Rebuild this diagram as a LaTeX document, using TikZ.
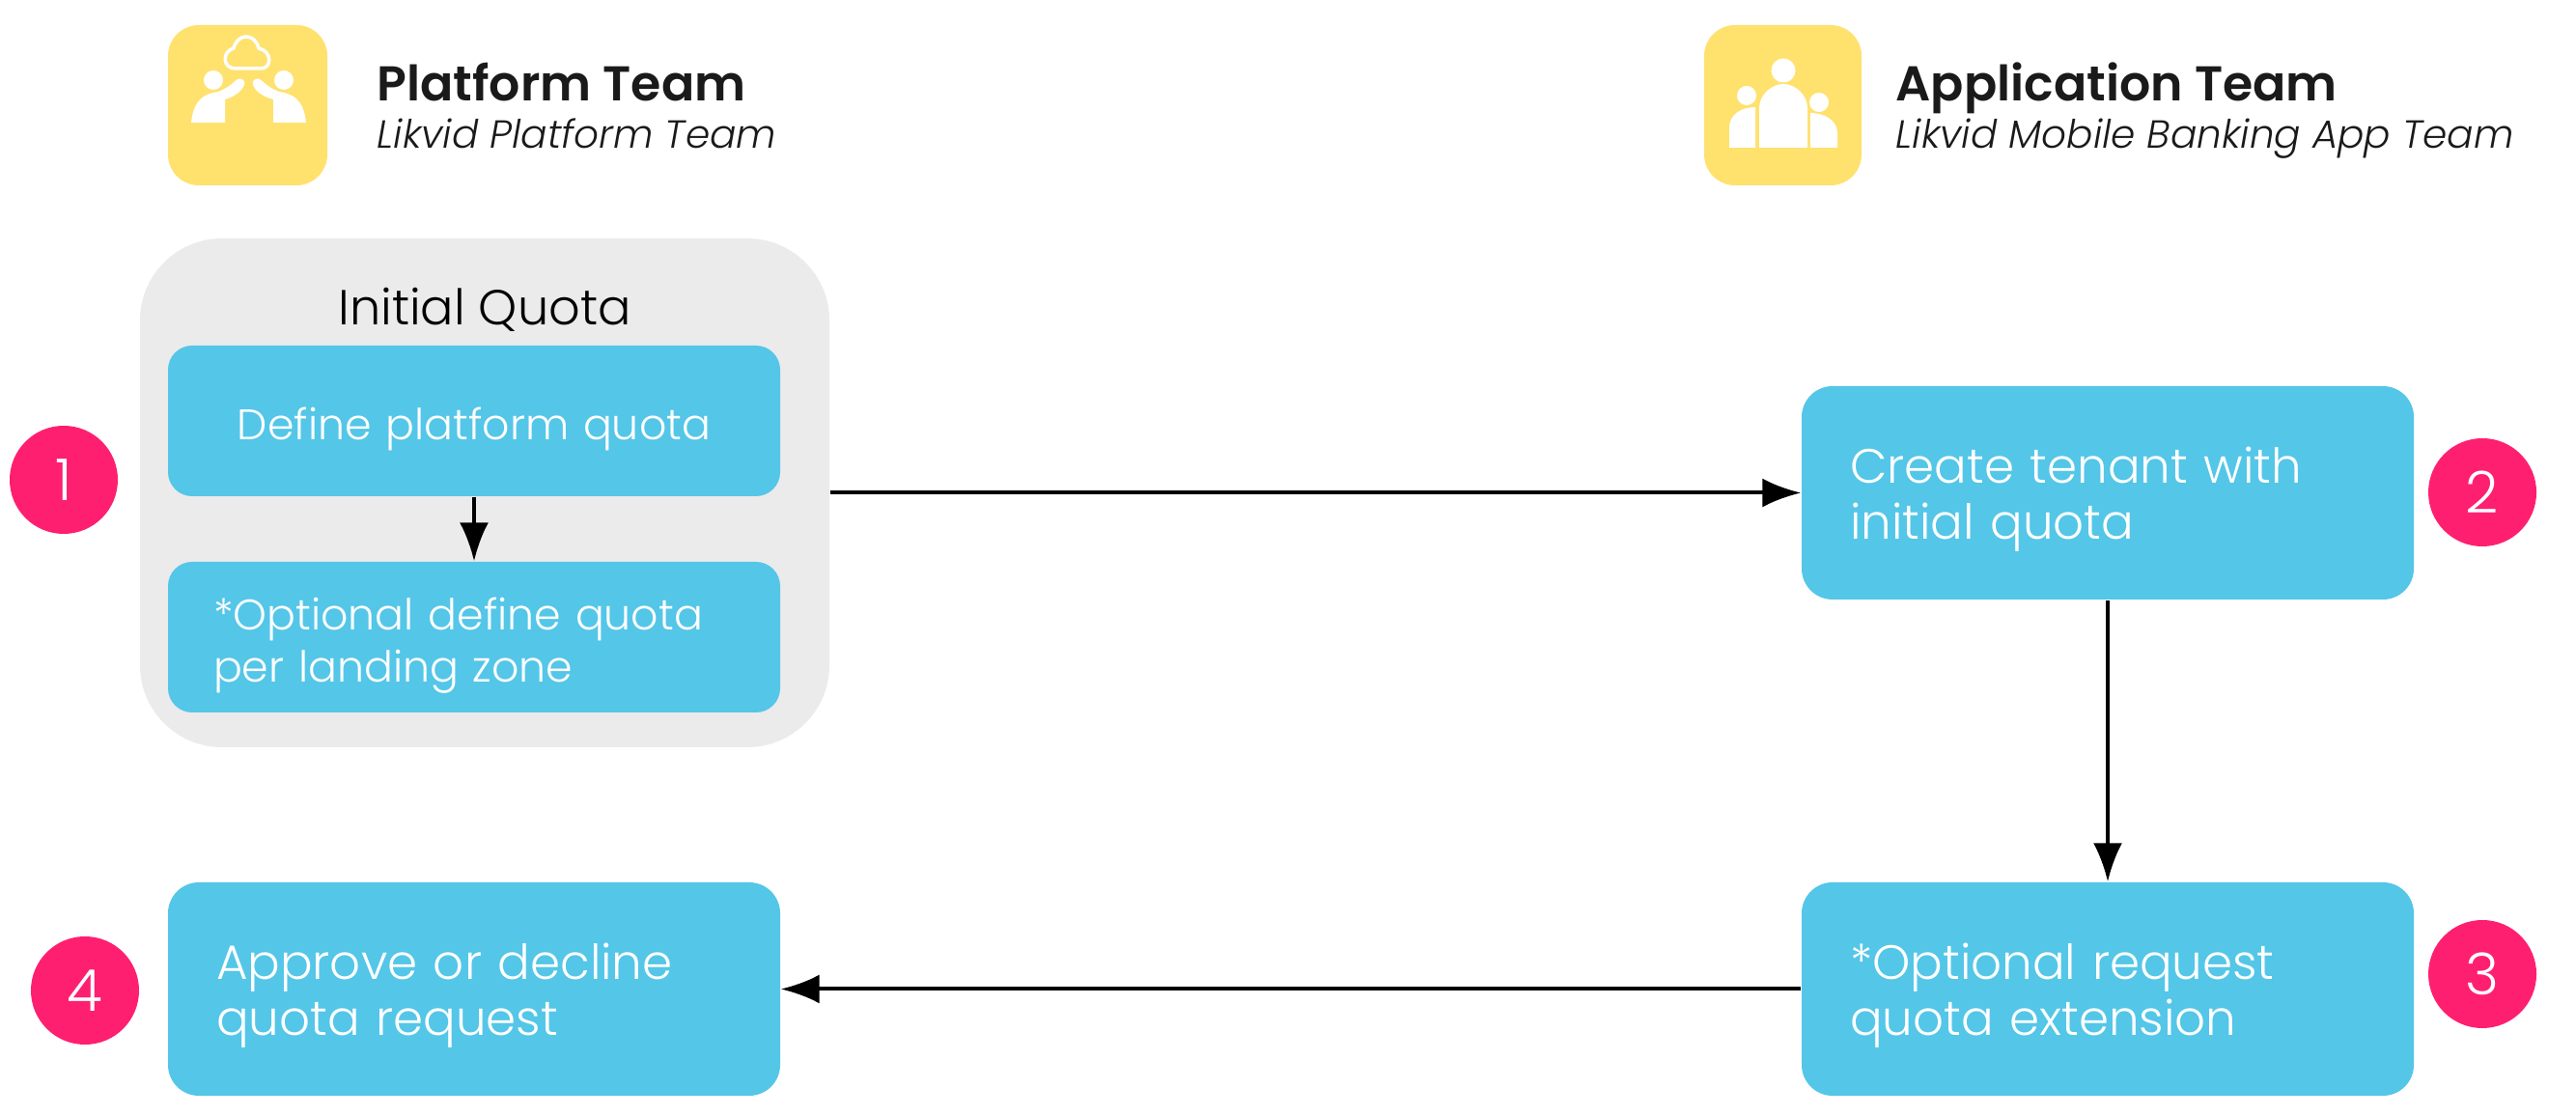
\documentclass[tikz,border=0pt]{standalone}
\usepackage{fontspec}
\setmainfont{Poppins}[UprightFont={* Light},ItalicFont={* Light Italic},BoldFont={* SemiBold}]
\usetikzlibrary{arrows.meta}
\definecolor{iconyellow}{HTML}{FFE16E}
\definecolor{boxblue}{HTML}{54C6E8}
\definecolor{groupgrey}{HTML}{EBEBEB}
\definecolor{numberpink}{HTML}{FF1F70}
\definecolor{titleblack}{HTML}{1A1A1A}
\tikzset{
  flowbox/.style={fill=boxblue,rounded corners=0.32cm,text=white,minimum width=6.34cm,minimum height=2.21cm,inner xsep=0.5cm,inner ysep=0pt,text width=5.34cm,align=left,font=\fontsize{14.2}{16.4}\selectfont,execute at begin node={\rule{0pt}{14.4pt}}},
  smallbox/.style={flowbox,rounded corners=0.25cm,minimum height=1.56cm,inner xsep=0.47cm,text width=5.4cm,font=\fontsize{12.6}{15.3}\selectfont,execute at begin node={\rule{0pt}{13.2pt}}},
  numberdot/.style={circle,fill=numberpink,text=white,minimum size=1.12cm,inner sep=0pt,font=\fontsize{17}{17}\selectfont},
  flowarrow/.style={-{Latex[length=0.4cm,width=0.3cm]},line width=0.04cm,black},
  teamname/.style={anchor=base west,inner sep=0pt,text=titleblack,font=\fontsize{14.4}{14.4}\bfseries\selectfont},
  teamnote/.style={anchor=base west,inner sep=0pt,text=titleblack,font=\fontsize{11.55}{11.55}\itshape\selectfont}
}
\begin{document}
\begin{tikzpicture}[x=1cm,y=-1cm]
      \useasboundingbox (0,0) rectangle (26.68,11.56);
      \fill[white] (0,0) rectangle (26.68,11.56);

      \fill[iconyellow,rounded corners=0.32cm] (1.74,0.26) rectangle (3.39,1.92);
      \fill[white] (2.21,0.83) circle (0.1);
      \fill[white] (2.94,0.83) circle (0.1);
      \fill[white] (1.98,1.27)..controls (2.0,1.1) and (2.05,0.98)..(2.26,0.95)
        ..controls (2.36,0.91) and (2.41,0.86)..(2.46,0.82)
        ..controls (2.5,0.8) and (2.55,0.84)..(2.53,0.88)
        ..controls (2.5,0.95) and (2.43,1.0)..(2.33,1.03)--(2.33,1.27)--cycle;
      \fill[white] (3.17,1.27)..controls (3.15,1.1) and (3.1,0.98)..(2.89,0.95)
        ..controls (2.79,0.91) and (2.74,0.86)..(2.69,0.82)
        ..controls (2.65,0.8) and (2.6,0.84)..(2.62,0.88)
        ..controls (2.65,0.95) and (2.72,1.0)..(2.83,1.03)--(2.83,1.27)--cycle;
      \draw[white,line width=0.035cm] (2.44,0.71)..controls (2.3,0.71) and (2.3,0.53)..(2.42,0.5)
        ..controls (2.46,0.34) and (2.64,0.34)..(2.68,0.5)
        ..controls (2.82,0.53) and (2.82,0.71)..(2.7,0.71)--cycle;

      \fill[iconyellow,rounded corners=0.32cm] (17.65,0.26) rectangle (19.28,1.92);
      \fill[white] (18.47,0.73) circle (0.125);
      \fill[white] (18.09,0.99) circle (0.1);
      \fill[white] (18.84,1.06) circle (0.1);
      \fill[white] (18.22,1.53)--(18.22,1.12)..controls (18.22,0.98) and (18.35,0.87)..(18.47,0.87)
        ..controls (18.59,0.87) and (18.72,0.98)..(18.72,1.12)--(18.72,1.53)--cycle;
      \fill[white] (17.91,1.53)--(17.91,1.32)..controls (17.91,1.19) and (18.03,1.11)..(18.18,1.11)--(18.18,1.53)--cycle;
      \fill[white] (18.75,1.53)--(18.75,1.17)..controls (18.9,1.17) and (19.03,1.25)..(19.03,1.38)--(19.03,1.53)--cycle;

      \node[teamname] (platformname) at (3.9,1.05) {Platform Team};
      \node[teamnote] (platformnote) at (3.9,1.54) {Likvid Platform Team};
      \node[teamname] (appname) at (19.63,1.05) {Application Team};
      \node[teamnote] (appnote) at (19.63,1.54) {Likvid Mobile Banking App Team};

      \node[fill=groupgrey,rounded corners=0.85cm,minimum width=7.14cm,minimum height=5.27cm] (quotagroup) at (5.02,5.105) {};
      \node[text=black,font=\fontsize{14.5}{14.5}\selectfont,inner sep=0pt] (quotatitle) at (5.02,3.21) {Initial Quota};

      \node[smallbox,align=center] (definequota) at (4.91,4.36) {Define platform quota};
      \node[smallbox] (optionalquota) at (4.91,6.6) {*Optional define quota\\per landing zone};
      \node[flowbox] (createtenant) at (21.83,5.105) {Create tenant with\\initial quota};
      \node[flowbox] (requestquota) at (21.83,10.245) {*Optional request\\quota extension};
      \node[flowbox] (approvequota) at (4.91,10.245) {Approve or decline\\quota request};

      \draw[flowarrow] (definequota)--(optionalquota);
      \draw[flowarrow] (quotagroup)--(createtenant);
      \draw[flowarrow] (createtenant)--(requestquota);
      \draw[flowarrow] (requestquota)--(approvequota);

      \node[numberdot] (numberone) at (0.66,4.97) {1};
      \node[numberdot] (numbertwo) at (25.71,5.1) {2};
      \node[numberdot] (numberthree) at (25.71,10.09) {3};
      \node[numberdot] (numberfour) at (0.88,10.26) {4};
\end{tikzpicture}
\end{document}
